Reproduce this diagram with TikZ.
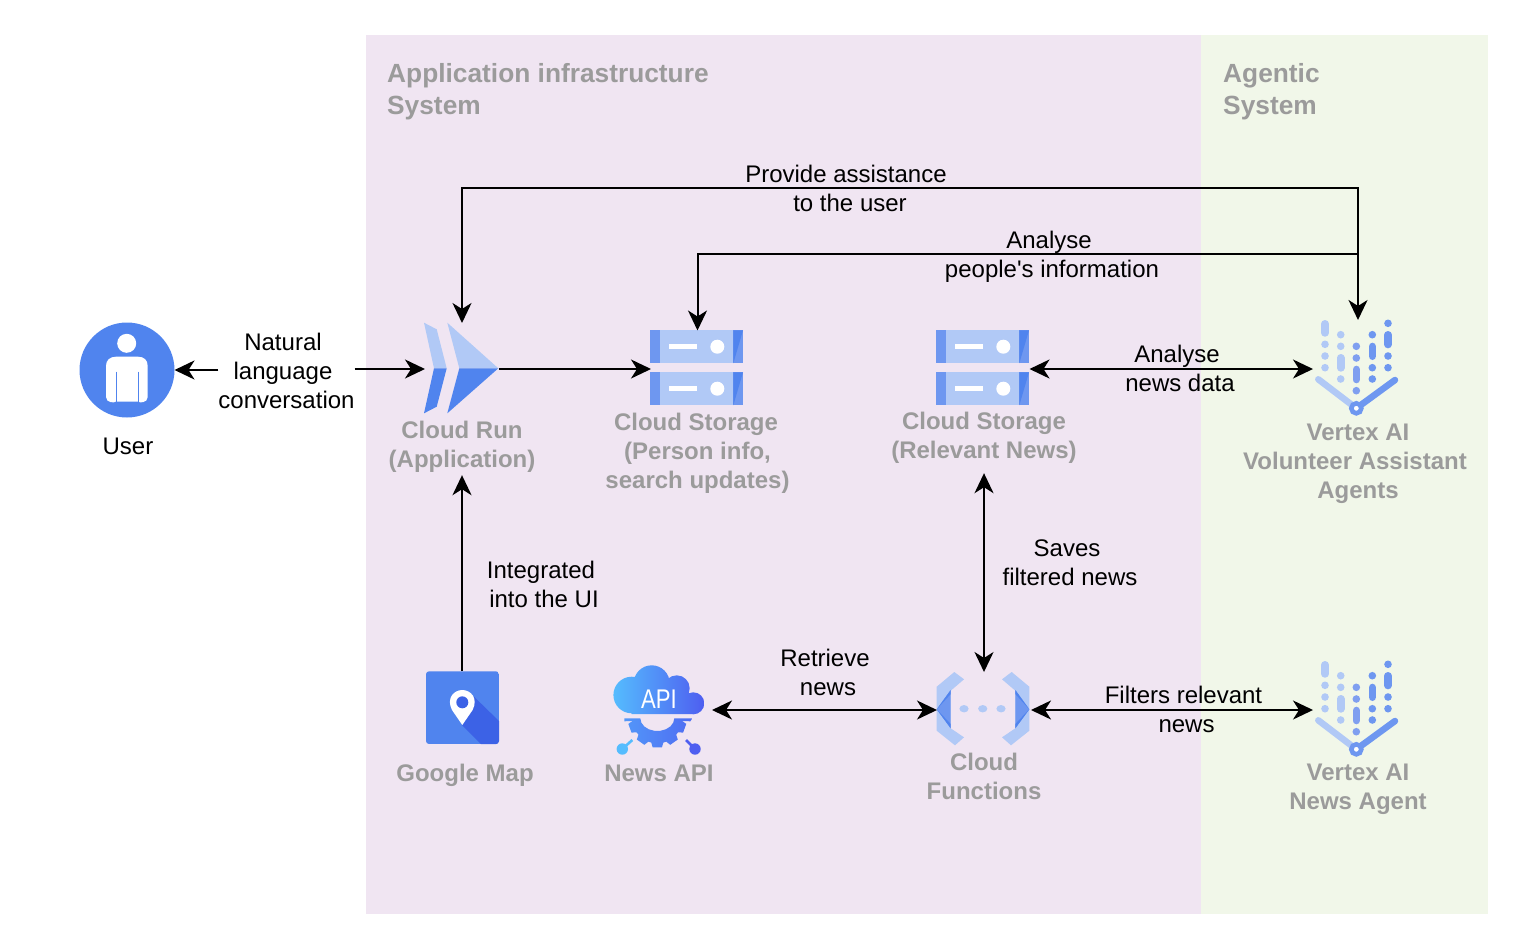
\documentclass[tikz,border=0pt]{standalone}
\usepackage{fontspec}
\setmainfont{Liberation Sans}
\usetikzlibrary{arrows.meta}
\definecolor{infrabg}{HTML}{F0E5F2}
\definecolor{agentbg}{HTML}{F1F7E9}
\definecolor{gbluedark}{HTML}{5084EE}
\definecolor{gbluemid}{HTML}{6E97F0}
\definecolor{gbluelight}{HTML}{B1C9F6}
\definecolor{gbluedeep}{HTML}{3C62E6}
\definecolor{vxmid}{HTML}{7F9FF0}
\definecolor{apileft}{HTML}{55BCFE}
\definecolor{apiright}{HTML}{4E5EF0}
\definecolor{labelgray}{HTML}{9B9B9B}
\begin{document}
\begin{tikzpicture}[x=1pt, y=-1pt]
\tikzset{regiontitle/.style={font=\fontsize{26.3}{32}\selectfont\bfseries, text=labelgray, align=left, anchor=west, inner sep=0pt}}
\tikzset{iconlabel/.style={font=\fontsize{24}{29}\selectfont\bfseries, text=labelgray, align=center, inner sep=0pt, outer sep=0pt}}
\tikzset{flowlabel/.style={font=\fontsize{24}{29}\selectfont, text=black, align=center, inner sep=0pt, outer sep=0pt}}
\tikzset{iconbox/.style={shape=rectangle, inner sep=0pt, outer sep=0pt, minimum width=#1}}
\tikzset{flow/.style={-{Stealth[length=20pt, width=19pt, inset=6pt]}, line width=2pt, black}}
\tikzset{bothflow/.style={flow, {Stealth[length=20pt, width=19pt, inset=6pt]}-{Stealth[length=20pt, width=19pt, inset=6pt]}}}
\tikzset{storeicon/.pic={
  \foreach \dy in {0, 42} {
    \fill[gbluelight] (-46.7, -38.7+\dy) rectangle (46, -5.7+\dy);
    \fill[gbluemid] (-46.7, -38.7+\dy) rectangle (-37, -5.7+\dy);
    \fill[gbluemid] (36.3, -38.7+\dy) rectangle (46, -5.7+\dy);
    \fill[gbluedark] (36.3, -38.7+\dy) -- (46, -38.7+\dy) -- (36.3, -5.7+\dy) -- cycle;
    \fill[white] (-28, -24.7+\dy) rectangle (0, -20+\dy);
    \fill[white] (20.3, -22.3+\dy) circle [radius=7pt];
  }
}}
\tikzset{vertexicon/.pic={
  \foreach \px/\py/\pc in {-33/-24.7/gbluelight, -33/-13/gbluelight, -33/-1.3/gbluelight,
      -17.3/-34.3/gbluelight, -17.3/-22.7/gbluelight, -17.3/10/gbluelight,
      -1.7/-22.7/vxmid, -1.7/-11/vxmid, -1.7/21.7/vxmid,
      14.3/-34.3/gbluemid, 14.3/-1.3/gbluemid, 14.3/10/gbluemid,
      30/-45.7/gbluemid, 30/-13/gbluemid, 30/-1.3/gbluemid}
    \fill[\pc] (\px, \py) circle [radius=3.8pt];
  \foreach \px/\pa/\pb/\pc in {-33/-45.2/-36.1/gbluelight, -17.3/-11.2/-1.1/gbluelight,
      -1.7/0.5/10.5/vxmid, 14.3/-22.5/-12.8/gbluemid, 30/-34.2/-24.5/gbluemid}
    \draw[\pc, line width=7.6pt, line cap=round] (\px, \pa) -- (\px, \pb);
  \draw[gbluelight, line width=6.5pt, line cap=round] (-39.7, 10.3) -- (-1.7, 39.3);
  \draw[gbluemid, line width=6.5pt, line cap=round] (37, 11) -- (-1.7, 39.3);
  \draw[gbluemid, fill=white, line width=4.6pt] (-1.7, 39.3) circle [radius=5pt];
}}
\useasboundingbox (0,0) rectangle (1522,940);
% regions
\fill[infrabg] (365.5,35) rectangle (1201,913.5);
\fill[agentbg] (1201,35) rectangle (1487.5,913.5);
\node (infratitle) [regiontitle] at (387,92) {Application infrastructure\\System};
\node (agenttitle) [regiontitle] at (1223,92) {Agentic\\System};
% icon nodes
\node (user) [shape=circle, fill=gbluedark, minimum size=95pt, inner sep=0pt, outer sep=0pt] at (127,370) {};
\node (cloudrun) [iconbox=74pt, minimum height=92pt] at (462,369) {};
\node (store1) [iconbox=93pt, minimum height=77pt] at (697.5,369) {};
\node (store2) [iconbox=93pt, minimum height=77pt] at (983,369) {};
\node (vxvolunteer) [iconbox=90pt, minimum height=98pt] at (1358,369) {};
\node (gmap) [iconbox=73pt, minimum height=73pt] at (462,707.5) {};
\node (newsapi) [iconbox=99pt, minimum height=90pt] at (662.5,710) {};
\node (functions) [iconbox=94pt, minimum height=76pt] at (984,710) {};
\node (vxnews) [iconbox=90pt, minimum height=98pt] at (1358,710) {};
% user figure
\fill[white] (126.7,343.3) circle [radius=9.5pt];
\fill[white] (106,366) .. controls (106,360) and (110,356.7) .. (116,356.7) -- (138,356.7) .. controls (144,356.7) and (147.7,360) .. (147.7,366)
  -- (147.7,397) .. controls (147.7,403) and (139,403) .. (138.6,401.7) -- (115.4,401.7) .. controls (115,403) and (106,403) .. (106,397) -- cycle;
\draw[gbluedark, line width=0.7pt] (116,371.7) -- (116,401.7);
\draw[gbluedark, line width=0.7pt] (138,371.7) -- (138,401.7);
% cloud run
\fill[gbluelight] (424,322.7) -- (436.7,329.3) -- (446.7,368.3) -- (434,368.3) -- cycle;
\fill[gbluedark] (434,368.3) -- (446.7,368.3) -- (436.7,406.7) -- (424,413.3) -- cycle;
\fill[gbluelight] (447.3,322.7) -- (498.3,368.3) -- (459.3,368.3) -- cycle;
\fill[gbluedark] (459.3,368.3) -- (498.3,368.3) -- (447.3,413.3) -- cycle;
% storage and vertex
\pic at (697,369) {storeicon};
\pic at (store2) {storeicon};
\pic at (vxvolunteer) {vertexicon};
\pic at (vxnews) {vertexicon};
% map
\begin{scope}
\clip[rounded corners=3pt] (426,671.3) rectangle (499,744);
\fill[gbluedark] (426,671.3) rectangle (499,744);
\fill[gbluedeep] (474,696.7) -- (499,721) -- (499,744) -- (481,744) -- (462,725) -- cycle;
\end{scope}
\fill[white] (462.3,725) -- (452,710) .. controls (446,698) and (454,690) .. (462.3,690) .. controls (470.6,690) and (478.6,698) .. (472.6,710) -- cycle;
\fill[gbluedeep] (462.3,702.3) circle [radius=6pt];
% news api
\shade[left color=apileft, right color=apiright]
  (631.7,695) circle [radius=18.3pt]
  (651.7,683.3) circle [radius=18pt]
  (676.7,688.3) circle [radius=13pt]
  (693.3,703.3) circle [radius=11pt]
  (693.3,714) rectangle (631.7,695);
\begin{scope}[shift={(657.3,718.3)}]
\shade[left color=apileft!60!apiright, right color=apiright!85!apileft]
  (-33,0) -- (-17,0)
  \foreach \t in {160,140,...,20} { -- ({17*cos(\t)},{12.7*sin(\t)}) }
  -- (17,0) -- (35,0) -- (33,3)
  \foreach \t in {20,55,90,125,160} { -- ({\t-14}:25) -- ({\t-9}:29.5) -- ({\t+9}:29.5) -- ({\t+14}:25) }
  -- (-33,3) -- cycle;
\end{scope}
\draw[apileft, line width=2.6pt] (622.3,749) -- (632.3,740);
\fill[apileft] (622.3,749) circle [radius=5.7pt];
\draw[apiright, line width=2.6pt] (695,749) -- (686,740);
\fill[apiright] (695,749) circle [radius=5.7pt];
\node (apitext) [font=\fontsize{27}{27}\selectfont, text=white, inner sep=0pt, xscale=0.82] at (659,698.8) {API};
% cloud functions
\begin{scope}[shift={(983,710)}]
\foreach \s in {1,-1} {
  \begin{scope}[xscale=\s]
  \fill[gbluelight] (-28.7,-38) -- (-19,-30.7) -- (-32.3,-19.3) -- (-32.3,18.3) -- (-19,27.3) -- (-28,35.3) -- (-46.3,20.7) -- (-46.3,-23.3) -- cycle;
  \fill[gbluemid] (-46.3,-0.7) -- (-32.3,-20) -- (-32.3,18.3) -- cycle;
  \fill[gbluedark] (-46.3,-0.7) -- (-32.3,-20) -- (-32.3,-16) -- cycle;
  \fill[gbluedark] (-46.3,-0.7) -- (-32.3,18.3) -- (-32.3,14) -- cycle;
  \end{scope}
}
\foreach \dotx in {-19,-0.3,18} \fill[gbluelight] (\dotx,-1.3) ellipse [x radius=4.6pt, y radius=3.7pt];
\end{scope}
% icon labels
\node (userlabel) [flowlabel] at (128,446) {User};
\node (cloudrunlabel) [iconlabel, outer ysep=3pt] at (462,446.5) {Cloud Run\\(Application)};
\node (store1label) [iconlabel] at (697.5,453) {Cloud Storage\kern3pt\\(Person info,\\search updates)};
\node (store2label) [iconlabel, outer ysep=10pt] at (984,437.5) {Cloud Storage\\(Relevant News)};
\node (vxvolunteerlabel) [iconlabel] at (1358,463.5) {Vertex AI\\Volunteer Assistant\kern6pt\\Agents};
\node (gmaplabel) [iconlabel] at (465,775) {Google Map};
\node (newsapilabel) [iconlabel] at (659,773) {News API};
\node (functionslabel) [iconlabel] at (984,776.5) {Cloud\\Functions};
\node (vxnewslabel) [iconlabel] at (1358,789.5) {Vertex AI\\News Agent};
% flow labels
\node (chatlabel) [flowlabel] at (286.5,370.5) {Natural\kern7pt\\language\kern7pt\\conversation};
\node (assistlabel) [flowlabel] at (848,188.5) {Provide assistance\kern4pt\\to the user\kern-4pt};
\node (peoplelabel) [flowlabel] at (1052,256.5) {Analyse\kern6pt\\people\textquotesingle s information};
\node (newsdatalabel) [flowlabel] at (1180,368.5) {Analyse\kern6pt\\news data};
\node (uilabel) [flowlabel] at (544,584.5) {Integrated\kern6pt\\into the UI};
\node (saveslabel) [flowlabel] at (1070,562.5) {Saves\kern6pt\\filtered news};
\node (retrievelabel) [flowlabel] at (828,672.5) {Retrieve\kern6pt\\news};
\node (filterlabel) [flowlabel] at (1185,709.5) {Filters relevant\kern3pt\\news\kern-3pt};
% connectors
\coordinate (assistbus) at (1358,188);
\coordinate (peoplebus) at (1358,254);
\draw[flow] (chatlabel.west |- user) -- (user.east);
\draw[flow] (chatlabel.east |- cloudrun) -- (cloudrun.west);
\draw[flow] (cloudrun.east) -- (store1.west);
\draw[flow] (gmap.north) -- (cloudrunlabel.south);
\draw[bothflow] (cloudrun.north) |- (assistbus) -- (vxvolunteer.north);
\draw[flow] (peoplebus) -| (store1.north);
\draw[bothflow] (store2.east) -- (vxvolunteer.west);
\draw[bothflow] (store2label.south) -- (functions.north);
\draw[bothflow] (newsapi.east) -- (functions.west);
\draw[bothflow] (functions.east) -- (vxnews.west);
\end{tikzpicture}
\end{document}
